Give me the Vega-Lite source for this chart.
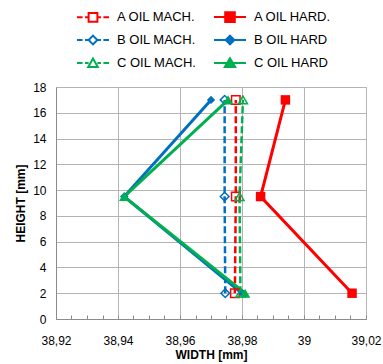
{
  "$schema": "https://vega.github.io/schema/vega-lite/v6.json",
  "width": 310,
  "height": 232,
  "autosize": {"type": "none"},
  "padding": {"left": 56, "top": 87, "right": 17, "bottom": 45},
  "background": "white",
  "config": {
    "font": "Liberation Sans",
    "view": {"stroke": "#a6a6a6", "strokeWidth": 1},
    "axis": {"labelColor": "#000", "titleColor": "#000", "labelFontSize": 12, "titleFontSize": 12, "titleFontWeight": "bold", "gridColor": "#b4b4b4", "domainColor": "#8c8c8c", "tickColor": "#8c8c8c", "labelFlush": false, "labelOverlap": false}
  },
  "data": {
    "values": [
      {"series": "A OIL MACH.", "width": 38.9777, "height": 2},
      {"series": "A OIL MACH.", "width": 38.978, "height": 9.5},
      {"series": "A OIL MACH.", "width": 38.978, "height": 17},
      {"series": "A OIL HARD.", "width": 39.0155, "height": 2},
      {"series": "A OIL HARD.", "width": 38.986, "height": 9.5},
      {"series": "A OIL HARD.", "width": 38.994, "height": 17},
      {"series": "B OIL MACH.", "width": 38.9746, "height": 2},
      {"series": "B OIL MACH.", "width": 38.9744, "height": 9.5},
      {"series": "B OIL MACH.", "width": 38.9744, "height": 17},
      {"series": "B OIL HARD", "width": 38.980, "height": 2},
      {"series": "B OIL HARD", "width": 38.942, "height": 9.5},
      {"series": "B OIL HARD", "width": 38.970, "height": 17},
      {"series": "C OIL MACH.", "width": 38.9795, "height": 2},
      {"series": "C OIL MACH.", "width": 38.9792, "height": 9.5},
      {"series": "C OIL MACH.", "width": 38.9803, "height": 17},
      {"series": "C OIL HARD", "width": 38.981, "height": 2},
      {"series": "C OIL HARD", "width": 38.942, "height": 9.5},
      {"series": "C OIL HARD", "width": 38.9755, "height": 17}
    ]
  },
  "encoding": {
    "x": {
      "field": "width", "type": "quantitative",
      "scale": {"domain": [38.92, 39.02], "nice": false, "zero": false},
      "axis": {
        "title": "WIDTH [mm]",
        "values": [38.92, 38.925, 38.93, 38.935, 38.94, 38.945, 38.95, 38.955, 38.96, 38.965, 38.97, 38.975, 38.98, 38.985, 38.99, 38.995, 39.0, 39.005, 39.01, 39.015, 39.02],
        "labelExpr": "abs(datum.value*50 - round(datum.value*50)) < 0.01 ? replace(format(datum.value, '.2~f'), '.', ',') : ''",
        "grid": true,
        "gridOpacity": {"condition": {"test": "abs(datum.value*50 - round(datum.value*50)) < 0.01", "value": 1}, "value": 0},
        "ticks": true,
        "tickSize": -4,
        "labelPadding": 20,
        "titlePadding": 3
      }
    },
    "y": {
      "field": "height", "type": "quantitative",
      "scale": {"domain": [0, 18], "nice": false},
      "axis": {
        "title": "HEIGHT [mm]",
        "values": [0, 2, 4, 6, 8, 10, 12, 14, 16, 18],
        "ticks": false,
        "labelPadding": 10,
        "titlePadding": 5
      }
    },
    "order": {"field": "height", "type": "quantitative"}
  },
  "layer": [
    {
      "transform": [{"filter": "indexof(datum.series, 'MACH') >= 0"}],
      "mark": {"type": "line", "strokeDash": [7, 3], "strokeWidth": 2.5},
      "encoding": {
        "color": {
          "field": "series", "type": "nominal",
          "scale": {"domain": ["A OIL MACH.", "B OIL MACH.", "C OIL MACH.", "A OIL HARD.", "B OIL HARD", "C OIL HARD"], "range": ["#ff0000", "#0070c0", "#00b050", "#ff0000", "#0070c0", "#00b050"]},
          "legend": {
            "title": null,
            "orient": "none",
            "legendX": 28,
            "legendY": -79,
            "columns": 2,
            "padding": 0,
            "symbolSize": 256,
            "symbolStrokeWidth": 2,
            "labelOffset": 15,
            "columnPadding": 13,
            "rowPadding": 5,
            "labelFontSize": 13,
            "labelColor": "#000",
            "encode": {
              "symbols": {
                "update": {
                  "shape": {"signal": "datum.value == 'A OIL MACH.' ? 'M-2,0H-1.3M-1,0H-0.55M0.55,0H1M1.3,0H2M-0.55,-0.55H0.55V0.55H-0.55Z' : datum.value == 'A OIL HARD.' ? 'M-2,0H2M-0.6,-0.6H0.6V0.6H-0.6Z' : datum.value == 'B OIL MACH.' ? 'M-2,0H-1.3M-1,0H-0.55M0.55,0H1M1.3,0H2M0,-0.55L0.55,0L0,0.55L-0.55,0Z' : datum.value == 'B OIL HARD' ? 'M-2,0H2M0,-0.55L0.55,0L0,0.55L-0.55,0Z' : datum.value == 'C OIL MACH.' ? 'M-2,0H-1.3M-1,0H-0.55M0.55,0H1M1.3,0H2M0,-0.55L0.6,0.5L-0.6,0.5Z' : 'M-2,0H2M0,-0.6L0.65,0.5L-0.65,0.5Z'"},
                  "fill": {"signal": "indexof(datum.value, 'HARD') >= 0 ? scale('color', datum.value) : 'transparent'"},
                  "stroke": {"signal": "scale('color', datum.value)"},
                  "strokeWidth": {"value": 2},
                  "opacity": {"value": 1}
                }
              }
            }
          }
        }
      }
    },
    {
      "transform": [{"filter": "indexof(datum.series, 'HARD') >= 0"}],
      "mark": {"type": "line", "strokeWidth": 3},
      "encoding": {
        "color": {"field": "series", "type": "nominal", "legend": null}
      }
    },
    {
      "transform": [{"filter": "datum.series == 'A OIL MACH.'"}],
      "mark": {"type": "point", "shape": "square", "filled": false, "color": "#ff0000", "fill": "transparent", "size": 72, "strokeWidth": 1.5, "opacity": 1}
    },
    {
      "transform": [{"filter": "datum.series == 'A OIL HARD.'"}],
      "mark": {"type": "point", "shape": "square", "filled": true, "color": "#ff0000", "size": 90, "opacity": 1}
    },
    {
      "transform": [{"filter": "datum.series == 'B OIL MACH.'"}],
      "mark": {"type": "point", "shape": "diamond", "filled": false, "color": "#0070c0", "fill": "transparent", "size": 75, "strokeWidth": 1.5, "opacity": 1}
    },
    {
      "transform": [{"filter": "datum.series == 'B OIL HARD'"}],
      "mark": {"type": "point", "shape": "diamond", "filled": true, "color": "#0070c0", "size": 70, "opacity": 1}
    },
    {
      "transform": [{"filter": "datum.series == 'C OIL MACH.'"}],
      "mark": {"type": "point", "shape": "triangle-up", "filled": false, "color": "#00b050", "fill": "transparent", "size": 81, "strokeWidth": 1.5, "opacity": 1}
    },
    {
      "transform": [{"filter": "datum.series == 'C OIL HARD'"}],
      "mark": {"type": "point", "shape": "triangle-up", "filled": true, "color": "#00b050", "size": 110, "opacity": 1}
    }
  ]
}
